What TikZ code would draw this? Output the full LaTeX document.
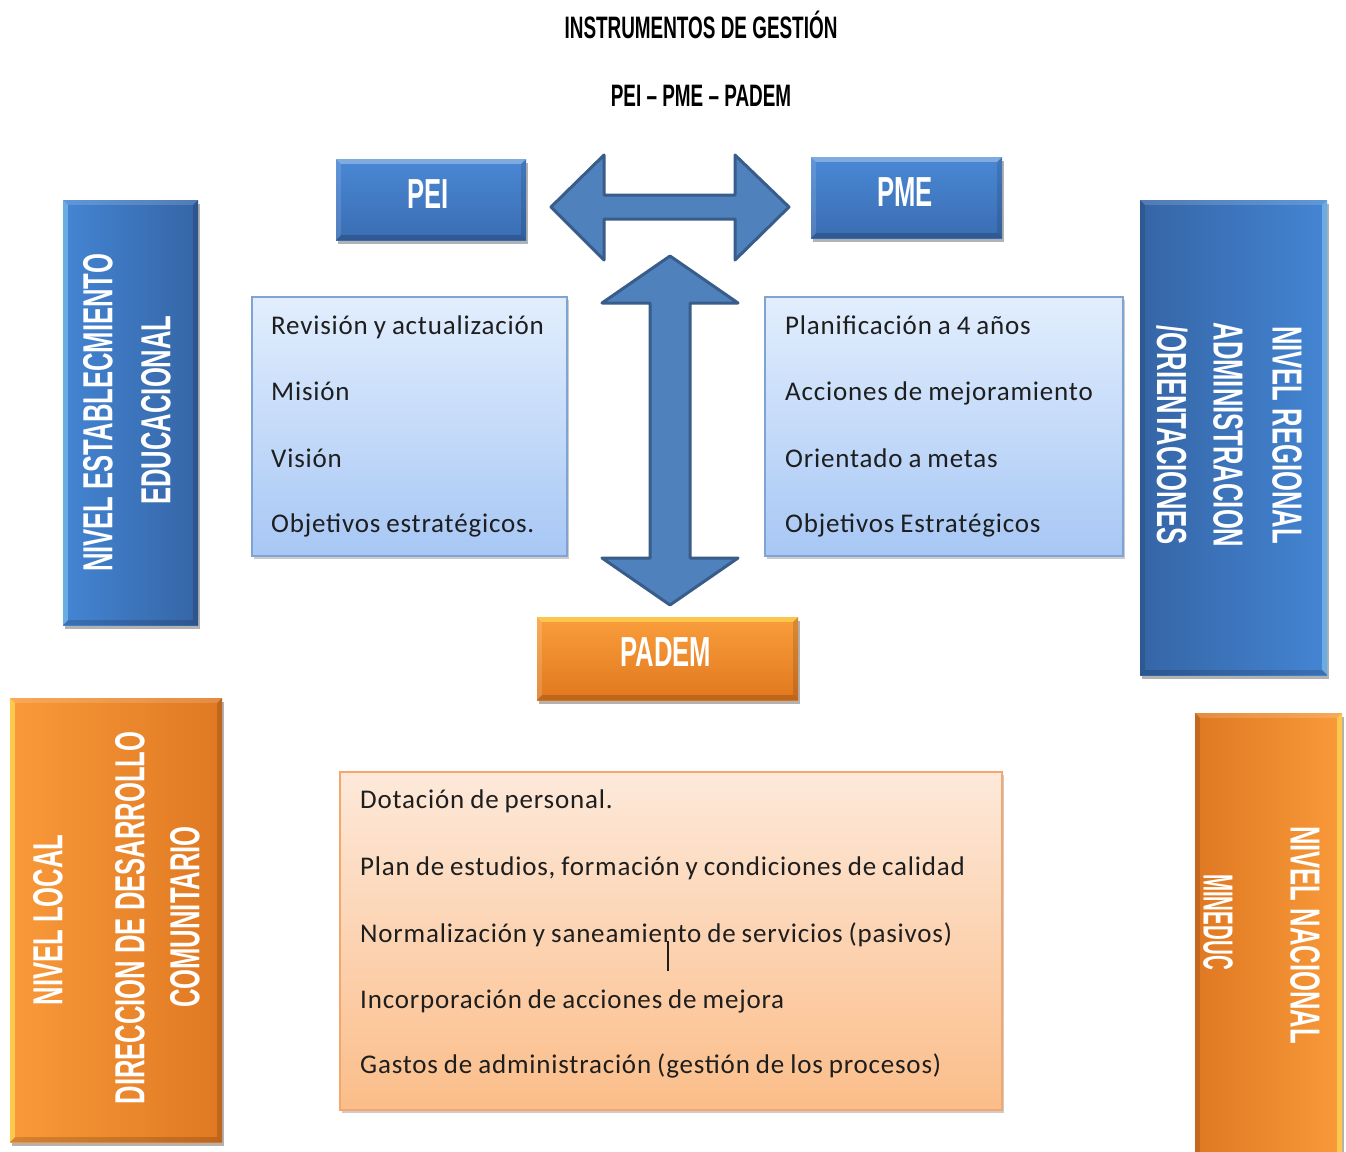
\documentclass[tikz,border=0pt]{standalone}
\usepackage{fontspec}
\setmainfont{Carlito}
\newfontfamily\bodyfam[LetterSpace=3]{Carlito}
\newfontfamily\agency[FakeStretch=0.61]{Liberation Sans}
\usetikzlibrary{shadows}
\definecolor{arrowfill}{HTML}{4F81BD}
\definecolor{arrowdraw}{HTML}{385D8A}
\definecolor{bTop}{HTML}{4A88D4}
\definecolor{bBot}{HTML}{3A6DB3}
\definecolor{bLight}{HTML}{4485D3}
\definecolor{bDark}{HTML}{3565A6}
\definecolor{oTop}{HTML}{FA9E3C}
\definecolor{oBot}{HTML}{E0781E}
\definecolor{oLight}{HTML}{F99A3A}
\definecolor{oDark}{HTML}{DF7822}
\definecolor{ltTop}{HTML}{E2EEFD}
\definecolor{ltBot}{HTML}{A7C7F5}
\definecolor{ltDraw}{HTML}{7FA4D4}
\definecolor{pkTop}{HTML}{FDE9DA}
\definecolor{pkBot}{HTML}{FBBD89}
\definecolor{pkDraw}{HTML}{F5A66A}
\definecolor{txt}{HTML}{1E1E1E}
\newcommand\bvl[6]{%
 \fill[#2] (#1.north west) -- (#1.north east) -- ([shift={(-#6pt,-#6pt)}]#1.north east) -- ([shift={(#6pt,-#6pt)}]#1.north west) -- cycle;
 \fill[#3] (#1.north east) -- (#1.south east) -- ([shift={(-#6pt,#6pt)}]#1.south east) -- ([shift={(-#6pt,-#6pt)}]#1.north east) -- cycle;
 \fill[#4] (#1.south west) -- (#1.south east) -- ([shift={(-#6pt,#6pt)}]#1.south east) -- ([shift={(#6pt,#6pt)}]#1.south west) -- cycle;
 \fill[#5] (#1.north west) -- (#1.south west) -- ([shift={(#6pt,#6pt)}]#1.south west) -- ([shift={(#6pt,-#6pt)}]#1.north west) -- cycle;}
\newcommand\bodyfont{\bodyfam\fontsize{27}{30}\selectfont\spaceskip=0.22em plus 0.05em\relax}
\tikzset{
 boxbase/.style={inner sep=0pt, draw=none, drop shadow={shadow xshift=2pt,shadow yshift=-4pt,opacity=0.3,fill=black}},
 textbox/.style={inner sep=0pt, line width=1.2pt, drop shadow={shadow xshift=2pt,shadow yshift=-3pt,opacity=0.2,fill=black}},
 lbl/.style={inner sep=0pt, text=white, font=\agency\bfseries\fontsize{42}{42}\selectfont},
 ttl/.style={inner sep=0pt, anchor=base, text=black, font=\agency\bfseries\fontsize{31}{31}\selectfont},
 item/.style={inner sep=0pt, anchor=base west, text=txt, font=\bodyfont},
 blockarrow/.style={fill=arrowfill, draw=arrowdraw, line width=3pt, line join=round}
}
\begin{document}
\begin{tikzpicture}[x=1pt,y=-1pt]
\useasboundingbox (0,0) rectangle (1346,1151);
\fill[white] (0,0) rectangle (1346,1151);

% titles
\node[ttl] (t1) at (701,38) {INSTRUMENTOS DE GESTIÓN};
\node[ttl] (t2) at (701,106) {PEI – PME – PADEM};

% block arrows
\draw[blockarrow] (551,207) -- (604,155) -- (604,195) -- (735,195) -- (735,155) -- (789,207) -- (735,260) -- (735,219) -- (604,219) -- (604,260) -- cycle;
\draw[blockarrow] (670,256) -- (738,303) -- (690,303) -- (690,558) -- (738,558) -- (670,605) -- (602,558) -- (650,558) -- (650,303) -- (602,303) -- cycle;

% PEI / PME / PADEM boxes
\node[boxbase, top color=bTop, bottom color=bBot, minimum width=190pt, minimum height=81pt] (pei) at (431,199.5) {};
\bvl{pei}{white,opacity=.30}{black,opacity=.12}{black,opacity=.18}{white,opacity=.12}{5}
\node[lbl, anchor=base] (peiT) at (428,208) {PEI};

\node[boxbase, top color=bTop, bottom color=bBot, minimum width=191pt, minimum height=81pt] (pme) at (906.5,197.5) {};
\bvl{pme}{white,opacity=.30}{black,opacity=.12}{black,opacity=.18}{white,opacity=.12}{5}
\node[lbl, anchor=base] (pmeT) at (905,206) {PME};

\node[boxbase, top color=oTop, bottom color=oBot, minimum width=261pt, minimum height=83pt] (padem) at (667.5,658.5) {};
\bvl{padem}{yellow!60!white,opacity=.45}{black,opacity=.12}{black,opacity=.15}{white,opacity=.15}{5}
\node[lbl, anchor=base] (pademT) at (666,666) {PADEM};

% text boxes
\node[textbox, draw=ltDraw, top color=ltTop, bottom color=ltBot, minimum width=315pt, minimum height=259pt] (peiBox) at (409.5,426.5) {};
\node[item] (p1) at (271,334) {Revisión y actualización};
\node[item] (p2) at (271,400) {Misión};
\node[item] (p3) at (271,467) {Visión};
\node[item] (p4) at (271,532) {Objetivos estratégicos.};

\node[textbox, draw=ltDraw, top color=ltTop, bottom color=ltBot, minimum width=358pt, minimum height=259pt] (pmeBox) at (944,426.5) {};
\node[item] (m1) at (785,334) {Planificación a 4 años};
\node[item] (m2) at (785,400) {Acciones de mejoramiento};
\node[item] (m3) at (785,467) {Orientado a metas};
\node[item] (m4) at (785,532) {Objetivos Estratégicos};

\node[textbox, draw=pkDraw, top color=pkTop, bottom color=pkBot, minimum width=662pt, minimum height=338pt] (pademBox) at (671,941) {};
\node[item] (d1) at (360,808) {Dotación de personal.};
\node[item] (d2) at (360,875) {Plan de estudios, formación y condiciones de calidad};
\node[item] (d3) at (360,942) {Normalización y saneamiento de servicios (pasivos)};
\node[item] (d4) at (360,1008) {Incorporación de acciones de mejora};
\node[item] (d5) at (360,1073) {Gastos de administración (gestión de los procesos)};
\coordinate (cur1) at (668,941);
\coordinate (cur2) at (668,971);
\draw[txt, line width=2pt] (cur1) -- (cur2);

% level boxes
\node[boxbase, left color=bLight, right color=bDark, minimum width=135pt, minimum height=425pt] (lvE) at (130.5,412.5) {};
\bvl{lvE}{white,opacity=.15}{black,opacity=.15}{black,opacity=.15}{cyan!40!white,opacity=.45}{5}
\node[lbl, rotate=90] (lvE1) at (98,413) {NIVEL ESTABLECMIENTO};
\node[lbl, rotate=90] (lvE2) at (156,410) {EDUCACIONAL};

\node[boxbase, left color=bDark, right color=bLight, minimum width=187pt, minimum height=475pt] (lvR) at (1233.5,437.5) {};
\bvl{lvR}{white,opacity=.15}{cyan!40!white,opacity=.45}{black,opacity=.15}{black,opacity=.12}{5}
\node[lbl, rotate=-90] (lvR1) at (1287,435) {NIVEL REGIONAL};
\node[lbl, rotate=-90] (lvR2) at (1228,435) {ADMINISTRACION};
\node[lbl, rotate=-90] (lvR3) at (1172,435) {/ORIENTACIONES};

\node[boxbase, left color=oLight, right color=oDark, minimum width=212pt, minimum height=444pt] (lvL) at (116,920) {};
\bvl{lvL}{white,opacity=.15}{black,opacity=.15}{black,opacity=.15}{yellow!60!white,opacity=.5}{5}
\node[lbl, rotate=90] (lvL1) at (48,920) {NIVEL LOCAL};
\node[lbl, rotate=90] (lvL2) at (130,918) {DIRECCION DE DESARROLLO};
\node[lbl, rotate=90] (lvL3) at (185,917) {COMUNITARIO};

\node[boxbase, left color=oDark, right color=oLight, minimum width=147pt, minimum height=452pt] (lvN) at (1268.5,939) {};
\bvl{lvN}{white,opacity=.15}{yellow!60!white,opacity=.5}{black,opacity=.15}{black,opacity=.12}{5}
\node[lbl, rotate=-90] (lvN1) at (1305,935) {NIVEL NACIONAL};
\node[lbl, rotate=-90, xscale=0.8] (lvN2) at (1218,922) {MINEDUC};
\end{tikzpicture}
\end{document}
